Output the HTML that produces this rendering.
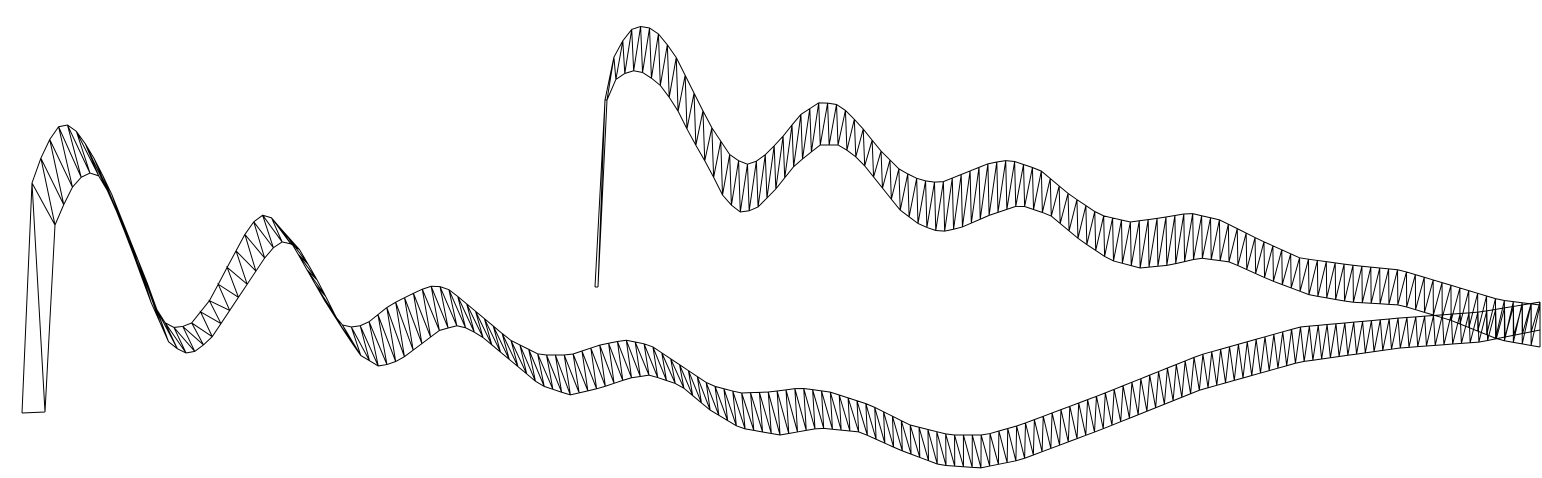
<!DOCTYPE html>
<html><head><meta charset="utf-8"><style>html,body{margin:0;background:#fff}svg{display:block}</style></head>
<body>
<svg id="chart" width="1542" height="478" viewBox="0 0 1542 478"></svg>
<script>
// Ribbon 1 (front ribbon) edge samples [x, y]
const ribbon1Top = [[22,413],[32,183],[42,155],[52,135],[60,125],[70,125],[80,135],[95,160],[110,190],[130,240],[150,290],[160,320],[175,328],[190,325],[210,300],[230,262],[250,225],[262,215],[272,218],[290,240],[310,275],[330,310],[345,328],[365,325],[390,305],[420,290],[435,285],[450,290],[480,315],[510,340],[540,355],[570,355],[600,345],[625,340],[650,345],[680,365],[710,385],[740,393],[770,392],[800,388],[830,392],[870,405],[910,425],[950,435],[985,435],[1020,425],[1100,395],[1200,355],[1300,327],[1400,318],[1480,312],[1540,302]];
const ribbon1Bottom = [[45,412],[55,225],[70,190],[85,173],[97,173],[110,195],[130,245],[150,300],[170,345],[190,355],[210,340],[230,310],[250,280],[270,250],[285,240],[300,250],[320,285],[340,325],[360,355],[380,367],[400,360],[420,345],[440,330],[460,325],[480,335],[510,360],[540,385],[570,395],[600,388],[630,378],[650,375],[680,385],[710,410],[740,428],[780,435],[820,428],[860,432],[900,450],[940,465],[980,468],[1020,460],[1100,430],[1200,390],[1300,362],[1400,348],[1480,342],[1540,330]];
// Ribbon 2 (back ribbon)
const ribbon2Top = [[595,287],[605,100],[610,65],[620,45],[630,30],[645,25],[660,35],[675,55],[690,85],[710,125],[730,155],[745,165],[760,160],[780,140],[800,115],[820,102],[840,105],[860,125],[880,150],[900,170],[920,180],[940,183],[960,175],[990,163],[1010,160],[1040,170],[1070,195],[1100,215],[1130,222],[1160,218],[1190,213],[1220,220],[1260,240],[1300,258],[1350,265],[1400,270],[1450,285],[1500,300],[1540,305]];
const ribbon2Bottom = [[598,287],[607,100],[615,80],[630,70],[645,73],[660,85],[675,105],[690,135],[710,170],[725,200],[740,212],[755,210],[775,190],[795,165],[820,145],[840,145],[860,160],[880,185],[900,210],[920,225],[940,232],[960,228],[990,215],[1020,205],[1050,215],[1080,240],[1110,260],[1140,268],[1170,265],[1200,258],[1230,262],[1270,280],[1310,295],[1350,302],[1400,305],[1450,320],[1500,340],[1540,347]];
const ribbonSegments = [170, 105];

const NS='http://www.w3.org/2000/svg';
const svg=document.getElementById('chart');
function interpAtX(pts,x){
  for(let i=1;i<pts.length;i++){
    if(x<=pts[i][0]||i===pts.length-1){
      const a=pts[i-1],b=pts[i];const f=(x-a[0])/((b[0]-a[0])||1);
      return [x,a[1]+f*(b[1]-a[1])];
    }
  }
}
function resample(pts,n){
  // first vertex kept, rest sampled uniformly in x from pts[1]
  const rest=pts.slice(1);
  const x0=rest[0][0],x1=rest[rest.length-1][0];
  const out=[pts[0]];
  for(let k=0;k<=n;k++){out.push(interpAtX(rest,x0+(x1-x0)*k/n));}
  return out;
}
function drawRibbon(top,bot,n,name){
  const g=document.createElementNS(NS,'g');
  
  
  const T=resample(top,n),B=resample(bot,n);
  let d='M'+T.map(p=>p.join(',')).join('L');
  d+='M'+B.map(p=>p.join(',')).join('L');
  d+='M'+T[0].join(',')+'L'+B[0].join(',');
  for(let i=0;i<T.length-1;i++){d+='M'+B[i].join(',')+'L'+T[i+1].join(',')+'L'+B[i+1].join(',');}
  const p=document.createElementNS(NS,'path');
  p.setAttribute('d',d);p.setAttribute('fill','none');p.setAttribute('stroke','#000');p.setAttribute('stroke-width','1');
  
  
  g.appendChild(p);svg.appendChild(g);
}
drawRibbon(ribbon2Top,ribbon2Bottom,ribbonSegments[1],'ribbon-back');
drawRibbon(ribbon1Top,ribbon1Bottom,ribbonSegments[0],'ribbon-front');
</script>
</body></html>
